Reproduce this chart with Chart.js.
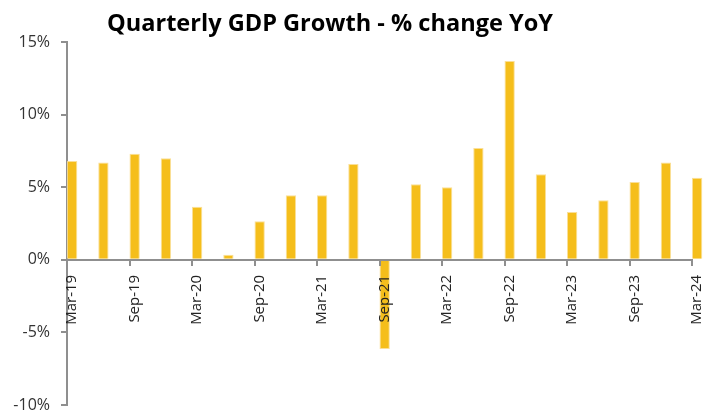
<!DOCTYPE html>
<html>
<head>
<meta charset="utf-8">
<script src="https://cdn.jsdelivr.net/npm/chart.js@4.4.1/dist/chart.umd.min.js"></script>
<style>
  html, body { margin: 0; padding: 0; background: #ffffff; }
  #wrap { width: 708px; height: 413px; position: relative; }
</style>
</head>
<body>
<div id="wrap"><canvas id="c" width="708" height="413"></canvas></div>
<script>
const categories = ["Mar-19","Jun-19","Sep-19","Dec-19","Mar-20","Jun-20","Sep-20","Dec-20","Mar-21","Jun-21","Sep-21","Dec-21","Mar-22","Jun-22","Sep-22","Dec-22","Mar-23","Jun-23","Sep-23","Dec-23","Mar-24"];
const gdpGrowth = [6.8, 6.7, 7.3, 7.0, 3.65, 0.35, 2.65, 4.45, 4.45, 6.6, -6.15, 5.2, 5.0, 7.7, 13.7, 5.9, 3.3, 4.1, 5.35, 6.7, 5.65];
const yTicks = [-10, -5, 0, 5, 10, 15];
const titleText = "Quarterly GDP Growth - % change YoY";

const FONT = "'Open Sans', 'Noto Sans', sans-serif";
const AXIS_GRAY = "#8f8f8f";
const BAR_COLOR = "#F5BE1B";

const titlePlugin = {
  id: 'customTitle',
  afterDraw(chart) {
    const ctx = chart.ctx;
    ctx.save();
    let size = 20;
    ctx.font = `700 ${size}px ${FONT}`;
    const w = ctx.measureText(titleText).width;
    size = size * 446 / w;
    ctx.font = `700 ${size}px ${FONT}`;
    ctx.fillStyle = "#000000";
    ctx.textAlign = 'left';
    ctx.textBaseline = 'alphabetic';
    ctx.fillText(titleText, 107, 31);
    ctx.restore();
  }
};

new Chart(document.getElementById('c'), {
  type: 'bar',
  data: {
    labels: categories,
    datasets: [
      { label: 'spacer', data: categories.map(() => null), backgroundColor: 'rgba(0,0,0,0)' },
      {
        label: 'GDP growth',
        data: gdpGrowth,
        backgroundColor: BAR_COLOR,
        borderColor: 'rgba(250,220,140,0.9)',
        borderWidth: 1,
        clip: false,
        categoryPercentage: 0.66,
        barPercentage: 1.0
      }
    ]
  },
  options: {
    responsive: false,
    animation: false,
    devicePixelRatio: 1,
    datasets: { bar: { categoryPercentage: 0.66, barPercentage: 1.0 } },
    layout: { padding: { top: 42, right: 16, bottom: 8, left: 0 } },
    plugins: {
      legend: { display: false },
      title: { display: false },
      tooltip: { enabled: false }
    },
    scales: {
      x: {
        type: 'category',
        position: { y: 0 },
        offset: false,
        border: { display: true, color: AXIS_GRAY, width: 2, z: 1 },
        grid: {
          display: true,
          drawOnChartArea: false,
          drawTicks: true,
          tickLength: 11,
          tickBorderDash: [5, 60],
          offset: false,
          lineWidth: 2,
          z: 1,
          color: (ctx) => (ctx.index % 2 === 0 ? AXIS_GRAY : 'rgba(0,0,0,0)')
        },
        ticks: {
          autoSkip: false,
          maxRotation: 90,
          minRotation: 90,
          padding: 4,
          labelOffset: 5,
          z: 1,
          color: '#222222',
          font: { family: FONT, size: 15 },
          callback: function (value, index) {
            return index % 2 === 0 ? categories[index] : '';
          }
        },
        afterFit(scale) {
          scale.height = 0;
          scale.paddingLeft = 0; scale.paddingRight = 0;
          scale.paddingTop = 0; scale.paddingBottom = 0;
        }
      },
      y: {
        min: -10,
        max: 15,
        afterBuildTicks(scale) { scale.ticks = yTicks.map(v => ({ value: v })); },
        border: { display: true, color: AXIS_GRAY, width: 2 },
        grid: {
          display: true,
          drawOnChartArea: false,
          drawTicks: true,
          tickLength: 6,
          color: AXIS_GRAY,
          lineWidth: 2
        },
        ticks: {
          padding: 11,
          color: '#333333',
          font: { family: FONT, size: 16 },
          callback: (v) => v + '%'
        },
        afterFit(scale) {
          scale.width = 67;
          scale.paddingTop = 0; scale.paddingBottom = 0;
        }
      }
    }
  },
  plugins: [titlePlugin]
});
</script>
</body>
</html>
